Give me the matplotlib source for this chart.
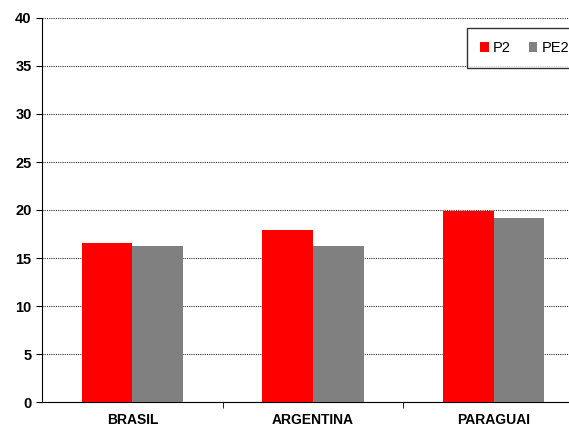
import numpy as np
import matplotlib
matplotlib.use('Agg')
import matplotlib.pyplot as plt

plt.rcParams['font.family'] = ['Liberation Sans', 'DejaVu Sans']

countries = ['BRASIL', 'ARGENTINA', 'PARAGUAI']
p2 = [16.6, 17.9, 19.9]
pe2 = [16.3, 16.3, 19.2]
yticks = list(range(0, 41, 5))

fig = plt.figure(figsize=(5.69, 4.28), dpi=100)
# axes runs past the right edge of the picture, as in the original
ax = fig.add_axes([42/569, 26/428, 542/569, 384/428])

x = np.arange(len(countries))
w = 0.28
ax.bar(x - w/2, p2, w, color='#ff0000', label='P2', zorder=3)
ax.bar(x + w/2, pe2, w, color='#808080', label='PE2', zorder=3)

ax.set_xlim(-0.5, 2.5)
ax.set_ylim(0, 40)
ax.set_yticks(yticks)
ax.set_yticklabels([str(v) for v in yticks], fontsize=10.5, fontweight='bold')
ax.yaxis.grid(True, linestyle=(0, (1, 1)), color='#333333', linewidth=0.8, zorder=0)

ax.set_xticks(x)
ax.set_xticklabels(countries, fontsize=10, fontweight='bold')
ax.set_xticks([0.5, 1.5, 2.5], minor=True)
ax.tick_params(axis='x', which='major', length=0, pad=8)
ax.tick_params(axis='x', which='minor', length=4, direction='out')
ax.tick_params(axis='y', length=4, direction='out')

for s in ['top', 'right']:
    ax.spines[s].set_visible(False)
ax.spines['left'].set_color('black')
ax.spines['bottom'].set_color('black')

leg = fig.legend(loc='upper left', bbox_to_anchor=(467/569, 1 - 28/428), ncol=2,
                 fontsize=10.5, frameon=True, fancybox=False, handlelength=0.6,
                 handleheight=0.7, handletextpad=0.3, columnspacing=1.2,
                 borderpad=0.9, borderaxespad=0)
leg.get_frame().set_edgecolor('black')
leg.get_frame().set_linewidth(1.0)

fig.savefig('out.png', dpi=100)
